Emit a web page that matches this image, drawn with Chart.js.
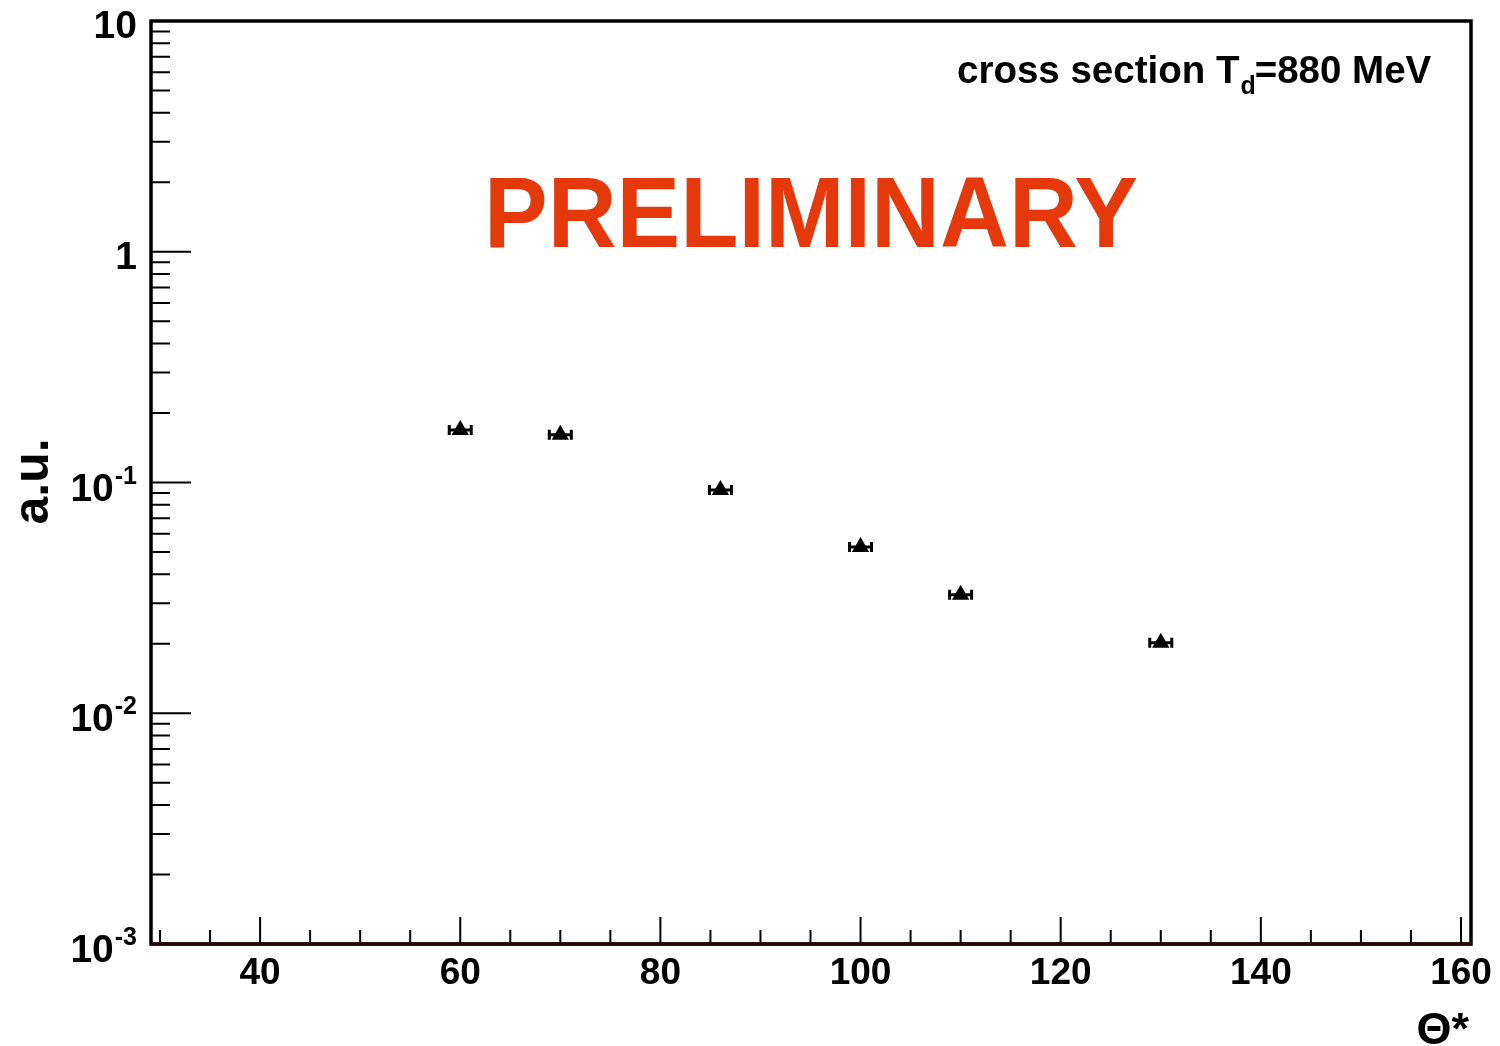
<!DOCTYPE html>
<html>
<head>
<meta charset="utf-8">
<script src="https://cdn.jsdelivr.net/npm/chart.js@4.4.1/dist/chart.umd.min.js"></script>
<style>
  html, body { margin: 0; padding: 0; background: #fff; }
  #wrap { width: 1500px; height: 1046px; }
</style>
</head>
<body>
<div id="wrap"><canvas id="c" width="1500" height="1046"></canvas></div>
<script>
// ---- data ----
const theta    = [60, 70, 86, 100, 110, 130];          // Θ* (deg)
const sigma    = [0.169, 0.161, 0.0928, 0.0525, 0.0326, 0.0202]; // a.u.
const thetaErr = [1.1, 1.1, 1.1, 1.1, 1.1, 1.1];
const xMajorTicks = [40, 60, 80, 100, 120, 140, 160];
const xMinorTicks = [30, 35, 45, 50, 55, 65, 70, 75, 85, 90, 95, 105, 110, 115, 125, 130, 135, 145, 150, 155];
const yDecadeExps = [-3, -2, -1, 0, 1];
const xRange = [29.1, 161];
const yRange = [0.001, 10];
const titleMain = 'cross section T';
const titleSub = 'd';
const titleRest = '=880 MeV';
const watermark = 'PRELIMINARY';
const xTitle = 'Θ*';
const yTitle = 'a.u.';

const FONT = '"Liberation Sans", Arial, Helvetica, sans-serif';

const rootPlugin = {
  id: 'rootStyle',
  beforeDatasetsDraw(chart) {
    const ctx = chart.ctx, xs = chart.scales.x, ys = chart.scales.y;
    ctx.save();
    ctx.strokeStyle = '#000';
    ctx.lineWidth = 3;
    for (let i = 0; i < theta.length; i++) {
      const y = ys.getPixelForValue(sigma[i]);
      const x1 = xs.getPixelForValue(theta[i] - thetaErr[i]);
      const x2 = xs.getPixelForValue(theta[i] + thetaErr[i]);
      ctx.beginPath();
      ctx.moveTo(x1, y); ctx.lineTo(x2, y);
      ctx.moveTo(x1, y - 5); ctx.lineTo(x1, y + 5);
      ctx.moveTo(x2, y - 5); ctx.lineTo(x2, y + 5);
      ctx.stroke();
    }
    ctx.restore();
  },
  afterDraw(chart) {
    const ctx = chart.ctx, xs = chart.scales.x, ys = chart.scales.y;
    const a = chart.chartArea;
    ctx.save();
    // ticks (inward)
    ctx.strokeStyle = '#000';
    ctx.lineWidth = 2;
    ctx.beginPath();
    for (const e of yDecadeExps) {
      const base = Math.pow(10, e);
      const py = ys.getPixelForValue(base);
      ctx.moveTo(a.left, py); ctx.lineTo(a.left + 40, py);
      if (e < 1) {
        for (let m = 2; m <= 9; m++) {
          const p = ys.getPixelForValue(base * m);
          ctx.moveTo(a.left, p); ctx.lineTo(a.left + 19, p);
        }
      }
    }
    for (const t of xMajorTicks) {
      const px = xs.getPixelForValue(t);
      ctx.moveTo(px, a.bottom); ctx.lineTo(px, a.bottom - 27);
    }
    for (const t of xMinorTicks) {
      const px = xs.getPixelForValue(t);
      ctx.moveTo(px, a.bottom); ctx.lineTo(px, a.bottom - 14);
    }
    ctx.stroke();

    // frame
    ctx.lineWidth = 3.5;
    ctx.strokeStyle = '#000';
    ctx.strokeRect(a.left, a.top, a.right - a.left, a.bottom - a.top);
    ctx.strokeStyle = '#2a0606';
    ctx.beginPath(); ctx.moveTo(a.left, a.bottom); ctx.lineTo(a.right, a.bottom); ctx.stroke();

    // y tick labels
    ctx.fillStyle = '#000';
    for (const e of yDecadeExps) {
      const py = ys.getPixelForValue(Math.pow(10, e));
      const rightX = a.left - 14;
      if (e === 1 || e === 0) {
        ctx.font = 'bold 39px ' + FONT;
        ctx.textAlign = 'right'; ctx.textBaseline = 'alphabetic';
        ctx.fillText(e === 1 ? '10' : '1', rightX, py + 17);
      } else {
        const sup = String(e);
        ctx.font = 'bold 25px ' + FONT;
        const sw = ctx.measureText(sup).width;
        ctx.textAlign = 'left'; ctx.textBaseline = 'alphabetic';
        ctx.fillText(sup, rightX - sw, py + 1);
        ctx.font = 'bold 39px ' + FONT;
        ctx.textAlign = 'right';
        ctx.fillText('10', rightX - sw - 1, py + 18);
      }
    }
    // x tick labels
    ctx.font = 'bold 37px ' + FONT;
    ctx.textAlign = 'center'; ctx.textBaseline = 'alphabetic';
    for (const t of xMajorTicks) {
      ctx.fillText(String(t), xs.getPixelForValue(t), a.bottom + 40);
    }
    // axis titles
    ctx.font = 'bold 45px ' + FONT;
    ctx.textAlign = 'right';
    ctx.fillText(xTitle, a.right - 2, 1044);
    ctx.save();
    ctx.translate(48, (a.top + a.bottom) / 2 - 1);
    ctx.rotate(-Math.PI / 2);
    ctx.font = 'bold 50px ' + FONT;
    ctx.textAlign = 'center';
    ctx.fillText(yTitle, 0, 0);
    ctx.restore();

    // title: cross section T_d=880 MeV
    let tx = 957;
    const tb = 83;
    ctx.textAlign = 'left';
    ctx.font = 'bold 38.5px ' + FONT;
    ctx.fillText(titleMain, tx, tb);
    tx += ctx.measureText(titleMain).width;
    ctx.font = 'bold 25px ' + FONT;
    ctx.fillText(titleSub, tx + 1, tb + 11);
    tx += ctx.measureText(titleSub).width;
    ctx.font = 'bold 38.5px ' + FONT;
    ctx.fillText(titleRest, tx, tb);

    // PRELIMINARY watermark
    ctx.font = 'bold 100px ' + FONT;
    const w = ctx.measureText(watermark).width;
    const targetW = 654;
    ctx.save();
    ctx.translate(811, 247);
    ctx.scale(targetW / w, 1);
    ctx.textAlign = 'center';
    ctx.fillStyle = '#e5390c';
    ctx.fillText(watermark, 0, 0);
    ctx.restore();

    ctx.restore();
  }
};

new Chart(document.getElementById('c'), {
  type: 'scatter',
  data: {
    datasets: [{
      label: 'cross section',
      data: theta.map((x, i) => ({ x: x, y: sigma[i] })),
      pointStyle: 'triangle',
      pointRadius: 10,
      pointHoverRadius: 10,
      backgroundColor: '#000',
      borderColor: '#000',
      borderWidth: 0
    }]
  },
  options: {
    responsive: false,
    animation: false,
    devicePixelRatio: 1,
    layout: { padding: { left: 151, right: 29, top: 21, bottom: 102 } },
    scales: {
      x: { type: 'linear', min: xRange[0], max: xRange[1], display: false },
      y: { type: 'logarithmic', min: yRange[0], max: yRange[1], display: false }
    },
    plugins: { legend: { display: false }, tooltip: { enabled: false } },
    events: []
  },
  plugins: [rootPlugin]
});
</script>
</body>
</html>
